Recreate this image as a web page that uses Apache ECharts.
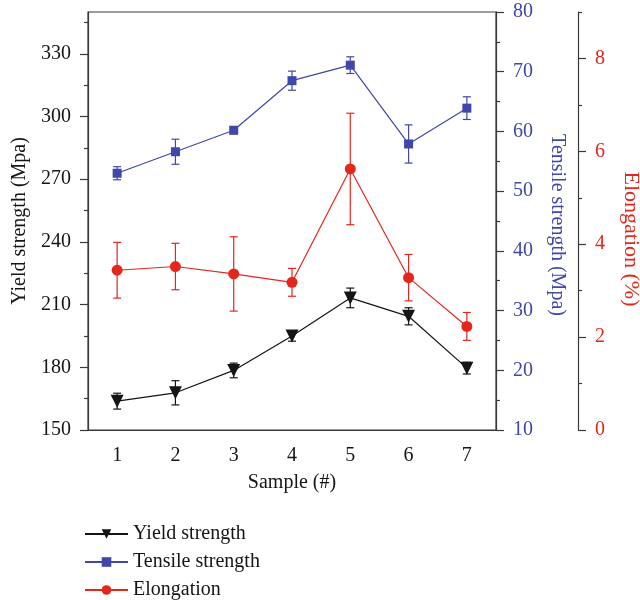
<!DOCTYPE html>
<html lang="en">
<head>
  <meta charset="UTF-8">
  <title>Strength and elongation</title>
  <script src="https://cdn.jsdelivr.net/npm/echarts/dist/echarts.min.js"></script>
  <style>
    body { margin: 0; background: #fff; }
    #chart { width: 640px; height: 600px; }
  </style>
</head>
<body>
<div id="chart"></div>
<script>
  // samples
  var samples = ['1', '2', '3', '4', '5', '6', '7'];

  // measured values and their error (+/-)
  var yieldStrength = [163.8, 167.8, 178.5, 195.0, 213.2, 204.4, 179.6];
  var yieldErr = [3.8, 5.8, 3.5, 2.5, 4.7, 4.1, 2.8];
  var tensileStrength = [53.0, 56.6, 60.2, 68.5, 71.1, 57.9, 63.9];
  var tensileErr = [1.1, 2.1, 0.6, 1.6, 1.4, 3.2, 1.9];
  var elongation = [3.44, 3.52, 3.36, 3.18, 5.62, 3.28, 2.23];
  var elongationErr = [0.6, 0.5, 0.8, 0.3, 1.2, 0.5, 0.3];

  // tick values
  var yieldTicks = [150, 180, 210, 240, 270, 300, 330];
  var yieldMinorTicks = [165, 195, 225, 255, 285, 315, 345];
  var tensileTicks = [10, 20, 30, 40, 50, 60, 70, 80];
  var tensileMinorTicks = [15, 25, 35, 45, 55, 65, 75];
  var elongTicks = [0, 2, 4, 6, 8];
  var elongMinorTicks = [1, 3, 5, 7, 9];

  var BLACK = '#151515';
  var BLUE = '#4047a8';
  var RED = '#e2281d';
  var AXIS = '#3a3a3a';
  var FONT = 'Liberation Serif';
  var FS = 20;

  var chart = echarts.init(document.getElementById('chart'));

  function errData(vals, errs) {
    return vals.map(function (v, i) { return [i, v - errs[i], v + errs[i]]; });
  }

  function errorBars(color) {
    return function (params, api) {
      var i = api.value(0);
      var lo = api.coord([i, api.value(1)]);
      var hi = api.coord([i, api.value(2)]);
      var w = 4;
      var st = { stroke: color, lineWidth: 1.2 };
      return {
        type: 'group',
        children: [
          { type: 'line', shape: { x1: lo[0], y1: lo[1], x2: hi[0], y2: hi[1] }, style: st },
          { type: 'line', shape: { x1: hi[0] - w, y1: hi[1], x2: hi[0] + w, y2: hi[1] }, style: st },
          { type: 'line', shape: { x1: lo[0] - w, y1: lo[1], x2: lo[0] + w, y2: lo[1] }, style: st }
        ]
      };
    };
  }

  // one major axis (line, labels, name) and one overlay with short minor ticks
  function majorAxis(o) {
    return {
      type: 'value',
      position: o.position,
      offset: o.offset || 0,
      min: o.min, max: o.max,
      name: o.name,
      nameLocation: 'middle',
      nameGap: o.nameGap,
      nameRotate: o.rotate,
      nameTextStyle: { fontFamily: FONT, fontSize: o.nameSize || FS, color: o.color, padding: o.namePad || 0 },
      axisLine: { show: true, lineStyle: { color: AXIS, width: 1.2 } },
      axisTick: { show: true, length: 8, customValues: o.ticks, lineStyle: { color: AXIS, width: 1.2 } },
      axisLabel: { customValues: o.ticks, margin: 17, fontFamily: FONT, fontSize: FS, color: o.color },
      splitLine: { show: false }
    };
  }
  function minorAxis(o) {
    return {
      type: 'value',
      position: o.position,
      offset: o.offset || 0,
      min: o.min, max: o.max,
      axisLine: { show: false },
      axisTick: { show: true, length: 4, customValues: o.ticks, lineStyle: { color: AXIS, width: 1.2 } },
      axisLabel: { show: false },
      splitLine: { show: false }
    };
  }

  var option = {
    backgroundColor: '#fff',
    textStyle: { fontFamily: FONT },
    grid: {
      left: 88, right: 144, top: 12, bottom: 170,
      outerBoundsMode: 'none', containLabel: false,
      show: true, borderColor: AXIS, borderWidth: 1.2
    },
    legend: {
      orient: 'vertical',
      left: 84,
      top: 524,
      padding: 0,
      itemWidth: 43,
      itemHeight: 12,
      itemGap: 8,
      data: ['Yield strength', 'Tensile strength', 'Elongation'],
      textStyle: { fontFamily: FONT, fontSize: FS, color: BLACK }
    },
    xAxis: {
      type: 'category',
      data: samples,
      boundaryGap: true,
      name: 'Sample (#)',
      nameLocation: 'middle',
      nameGap: 43,
      nameTextStyle: { fontFamily: FONT, fontSize: FS, color: BLACK },
      axisLine: { lineStyle: { color: AXIS, width: 1.2 } },
      axisTick: { alignWithLabel: true, length: 8, lineStyle: { color: AXIS, width: 1.2 } },
      axisLabel: { margin: 16, fontFamily: FONT, fontSize: FS, color: BLACK },
      splitLine: { show: false }
    },
    yAxis: [
      majorAxis({ position: 'left', min: 150, max: 350, ticks: yieldTicks, name: 'Yield strength (Mpa)', nameGap: 56, rotate: 90, color: BLACK }),
      minorAxis({ position: 'left', min: 150, max: 350, ticks: yieldMinorTicks }),
      majorAxis({ position: 'right', min: 10, max: 80, ticks: tensileTicks, name: 'Tensile strength (Mpa)', nameGap: 51, rotate: -90, color: BLUE, namePad: [0, 0, 0, 8] }),
      minorAxis({ position: 'right', min: 10, max: 80, ticks: tensileMinorTicks }),
      majorAxis({ position: 'right', offset: 82, min: 0, max: 9, ticks: elongTicks, name: 'Elongation (%)', nameGap: 42, rotate: -90, color: RED, nameSize: 22, namePad: [0, 0, 0, 36] }),
      minorAxis({ position: 'right', offset: 82, min: 0, max: 9, ticks: elongMinorTicks })
    ],
    series: [
      {
        name: 'Yield strength err', type: 'custom', yAxisIndex: 0, z: 1,
        renderItem: errorBars(BLACK), encode: { x: 0, y: [1, 2] },
        data: errData(yieldStrength, yieldErr)
      },
      {
        name: 'Tensile strength err', type: 'custom', yAxisIndex: 2, z: 1,
        renderItem: errorBars(BLUE), encode: { x: 0, y: [1, 2] },
        data: errData(tensileStrength, tensileErr)
      },
      {
        name: 'Elongation err', type: 'custom', yAxisIndex: 4, z: 1,
        renderItem: errorBars(RED), encode: { x: 0, y: [1, 2] },
        data: errData(elongation, elongationErr)
      },
      {
        name: 'Yield strength', type: 'line', yAxisIndex: 0, z: 3,
        data: yieldStrength,
        symbol: 'triangle', symbolRotate: 180, symbolSize: 13,
        color: BLACK,
        lineStyle: { color: BLACK, width: 1.2 },
        itemStyle: { color: BLACK }
      },
      {
        name: 'Tensile strength', type: 'line', yAxisIndex: 2, z: 3,
        data: tensileStrength,
        symbol: 'rect', symbolSize: 9,
        color: BLUE,
        lineStyle: { color: BLUE, width: 1.2 },
        itemStyle: { color: BLUE }
      },
      {
        name: 'Elongation', type: 'line', yAxisIndex: 4, z: 3,
        data: elongation,
        symbol: 'circle', symbolSize: 11,
        color: RED,
        lineStyle: { color: RED, width: 1.2 },
        itemStyle: { color: RED }
      }
    ]
  };

  chart.setOption(option);
</script>
</body>
</html>
